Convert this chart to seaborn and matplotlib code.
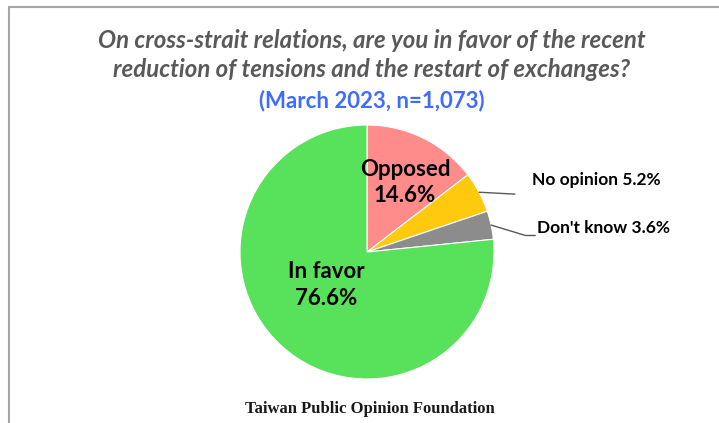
import numpy as np
import matplotlib
matplotlib.use("Agg")
import matplotlib.pyplot as plt
import seaborn as sns

# =============================
# DATA
# =============================
categories = ["Opposed", "No opinion", "Don't know", "In favor"]
shares = [14.6, 5.2, 3.6, 76.6]
colors = ["#FF8B8B", "#FFC90E", "#8C8C8C", "#58E15A"]

TITLE = "On cross-strait relations, are you in favor of the recent\nreduction of tensions and the restart of exchanges?"
SUBTITLE = "(March 2023, n=1,073)"
SOURCE = "Taiwan Public Opinion Foundation"

sns.set_theme(style="white")
plt.rcParams["font.family"] = ["Lato", "DejaVu Sans"]

fig = plt.figure(figsize=(7.19, 4.23), dpi=100)
fig.patch.set_facecolor("white")

# frame lines (top and left, like the slide border)
fig.add_artist(plt.Line2D([9 / 719, 1.0], [1 - 7 / 423, 1 - 7 / 423], color="#A6A6A6", lw=1.5))
fig.add_artist(plt.Line2D([9 / 719, 9 / 719], [0, 1 - 7 / 423], color="#A6A6A6", lw=1.5))

# pie axes: centre ~ (367, 252) px, radius ~127 px
ax = fig.add_axes([240 / 719, (423 - 379) / 423, 254 / 719, 254 / 423])
wedges, _ = ax.pie(
    shares,
    colors=colors,
    startangle=90,
    counterclock=False,
    wedgeprops=dict(edgecolor="white", linewidth=0.8),
)
ax.set_xlim(-1, 1)
ax.set_ylim(-1, 1)
ax.set_aspect("equal")
ax.axis("off")

# inside labels
ax.text(0.30, 0.55, f"{categories[0]}\n{shares[0]}%", ha="center", va="center",
        fontsize=16, fontweight="bold", color="black", linespacing=1.3)
ax.text(-0.32, -0.26, f"{categories[3]}\n{shares[3]}%", ha="center", va="center",
        fontsize=16, fontweight="bold", color="black", linespacing=1.4)

# outside labels with leader lines
def mid_point(w, r=1.0):
    ang = np.deg2rad((w.theta1 + w.theta2) / 2)
    return r * np.cos(ang), r * np.sin(ang)

x0, y0 = mid_point(wedges[1])
ax.plot([x0, 1.165], [y0, y0 - 0.015], color="#595959", lw=1, clip_on=False)
ax.text(1.30, 0.57, f"{categories[1]} {shares[1]}%", ha="left", va="center",
        fontsize=12.5, fontweight="bold", color="black")

x1, y1 = mid_point(wedges[2])
ax.plot([x1, 1.248, 1.325], [y1, 0.13, 0.13], color="#595959", lw=1, clip_on=False)
ax.text(1.335, 0.19, f"{categories[2]} {shares[2]}%", ha="left", va="center",
        fontsize=12.5, fontweight="bold", color="black")

# titles
fig.text(372 / 719, 1 - 55 / 423, TITLE, ha="center", va="center", fontsize=17.3,
         fontweight="bold", style="italic", color="#595959", linespacing=1.3)
fig.text(372 / 719, 1 - 101 / 423, SUBTITLE, ha="center", va="center", fontsize=16,
         fontweight="bold", color="#3F6BFF")

fig.text(370 / 719, 1 - 409 / 423, SOURCE, ha="center", va="center", fontsize=12,
         fontweight="bold", family=["Liberation Serif", "DejaVu Serif"], color="#1A1A1A")

fig.savefig("out.png", dpi=100)
